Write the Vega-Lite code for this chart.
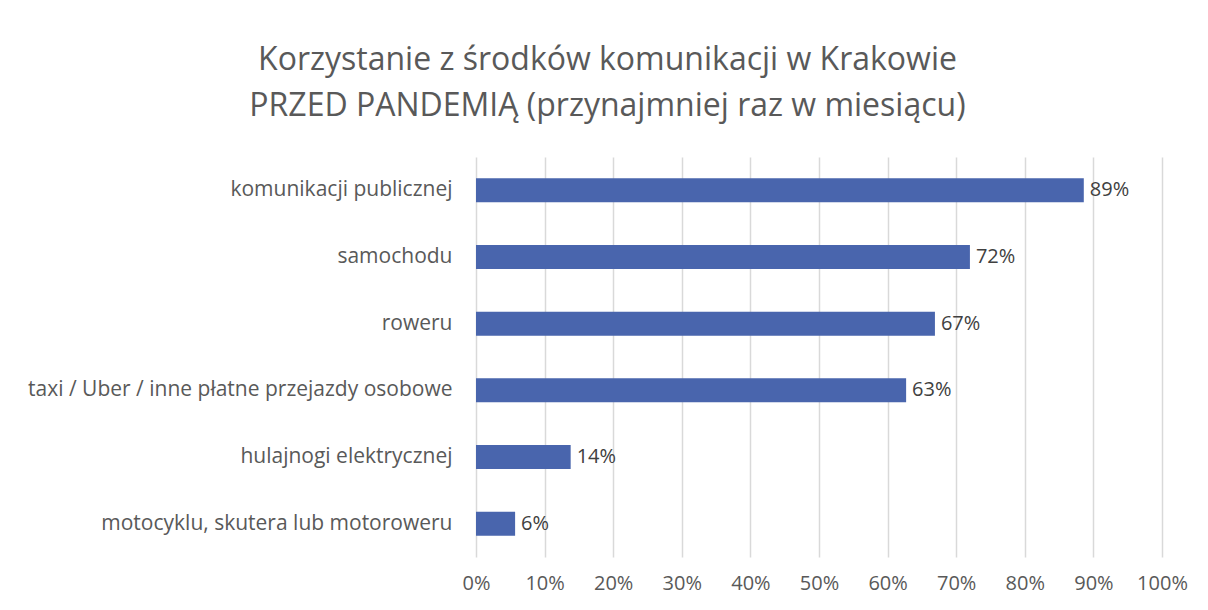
{
  "$schema": "https://vega.github.io/schema/vega-lite/v6.json",
  "width": 686,
  "height": 400,
  "padding": {"left": 27, "top": 44, "right": 18, "bottom": 10},
  "background": "white",
  "title": {
    "text": ["Korzystanie z środków komunikacji w Krakowie", "PRZED PANDEMIĄ (przynajmniej raz w miesiącu)"],
    "font": "Open Sans",
    "fontSize": 32,
    "fontWeight": "normal",
    "color": "#595959",
    "lineHeight": 46,
    "anchor": "middle",
    "frame": "bounds",
    "offset": 34
  },
  "data": {
    "values": [
      {"kategoria": "komunikacji publicznej", "wartosc": 0.886},
      {"kategoria": "samochodu", "wartosc": 0.72},
      {"kategoria": "roweru", "wartosc": 0.669},
      {"kategoria": "taxi / Uber / inne płatne przejazdy osobowe", "wartosc": 0.627},
      {"kategoria": "hulajnogi elektrycznej", "wartosc": 0.138},
      {"kategoria": "motocyklu, skutera lub motoroweru", "wartosc": 0.057}
    ]
  },
  "encoding": {
    "y": {
      "field": "kategoria",
      "type": "nominal",
      "sort": null,
      "scale": {"paddingInner": 0.64, "paddingOuter": 0.32},
      "axis": {
        "title": null,
        "domain": false,
        "ticks": false,
        "labelPadding": 24,
        "labelFont": "Open Sans",
        "labelFontSize": 21,
        "labelColor": "#595959",
        "labelLimit": 600
      }
    },
    "x": {
      "field": "wartosc",
      "type": "quantitative",
      "scale": {"domain": [0, 1]},
      "axis": {
        "title": null,
        "format": ".0%",
        "values": [0, 0.1, 0.2, 0.3, 0.4, 0.5, 0.6, 0.7, 0.8, 0.9, 1],
        "labelOverlap": false,
        "labelFlush": false,
        "domain": false,
        "ticks": false,
        "labelPadding": 16,
        "labelFont": "Open Sans",
        "labelFontSize": 20,
        "labelColor": "#595959",
        "gridColor": "#d9d9d9",
        "gridWidth": 1.5
      }
    }
  },
  "layer": [
    {"mark": {"type": "bar", "color": "#4965ad"}},
    {
      "mark": {"type": "text", "align": "left", "dx": 6, "font": "Open Sans", "fontSize": 20, "color": "#404040"},
      "encoding": {"text": {"field": "wartosc", "type": "quantitative", "format": ".0%"}}
    }
  ],
  "config": {"view": {"stroke": null}}
}
